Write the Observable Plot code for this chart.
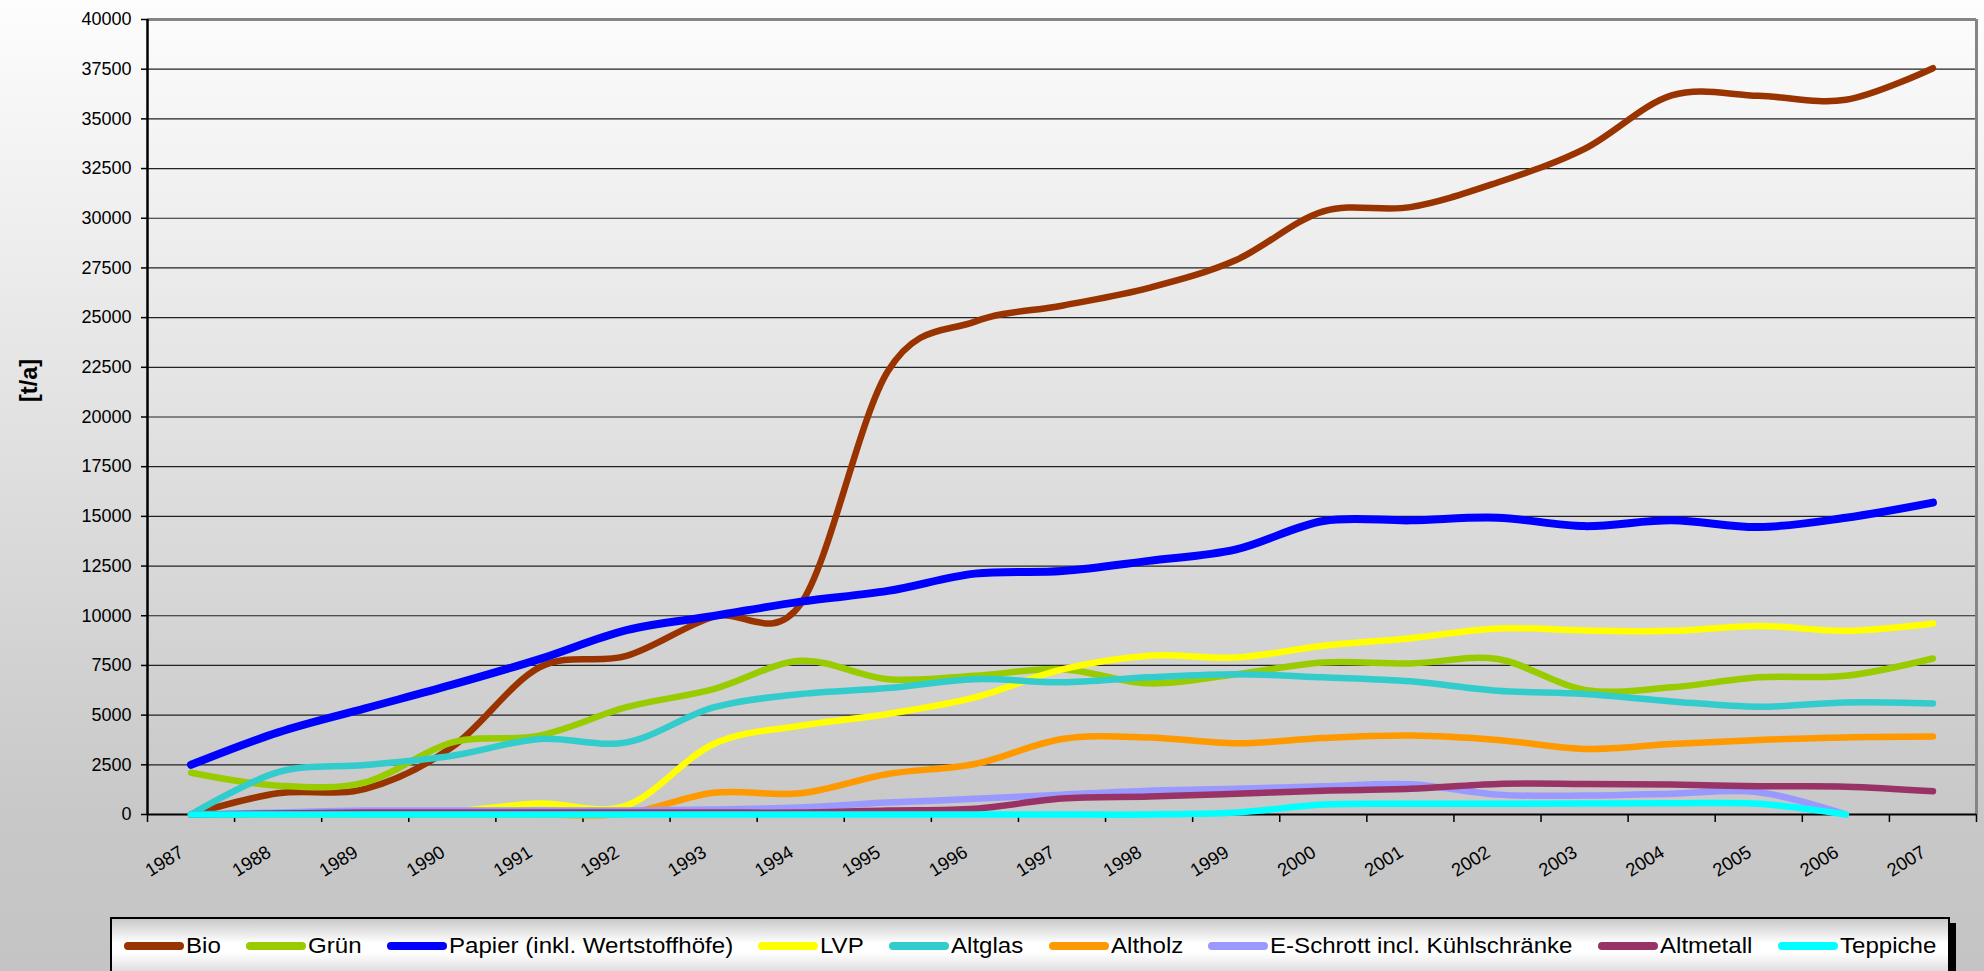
<!DOCTYPE html>
<html>
<head>
<meta charset="utf-8">
<script src="https://cdn.jsdelivr.net/npm/d3@7"></script>
<script src="https://cdn.jsdelivr.net/npm/@observablehq/plot@0.6"></script>
<style>
html,body{margin:0;padding:0;}
body{width:1984px;height:971px;overflow:hidden;position:relative;
  background:linear-gradient(to bottom,#fdfdfd 0px,#c8c8c8 814px,#c4c4c4 971px);
  font-family:"Liberation Sans",Arial,sans-serif;}
#chart{position:absolute;left:0;top:0;}
#legend{position:absolute;left:110px;top:917px;width:1812px;height:70px;
  border:2px solid #000;box-sizing:content-box;padding:0 12px 0 12px;
  background:linear-gradient(to bottom,#c9c9c9 0px,#ffffff 24px,#ffffff 34px,#cfcfcf 60px);
  box-shadow:6px 6px 0 #000;display:flex;justify-content:space-between;align-items:flex-start;}
#legend .item{display:flex;align-items:center;margin-top:15px;height:24px;white-space:nowrap;}
#legend .sw{display:inline-block;width:60px;height:8px;border-radius:4px;margin-right:2px;}
#legend .tx{display:inline-block;font-size:21.5px;line-height:24px;color:#000;transform:scaleX(1.12);transform-origin:left center;}
</style>
</head>
<body>
<div id="chart"></div>
<div id="legend"></div>
<script>
// ---- data (t/a per year) ----
const years = [1987,1988,1989,1990,1991,1992,1993,1994,1995,1996,1997,1998,1999,2000,2001,2002,2003,2004,2005,2006,2007];
const bio       = [0,1070,1290,3400,7400,7980,9950,10600,22300,24800,25600,26500,27900,30350,30560,31800,33490,36180,36160,35960,37550];
const gruen     = [2100,1450,1620,3630,3970,5400,6310,7730,6810,6980,7310,6600,7060,7650,7600,7820,6270,6400,6900,6980,7850];
const papier    = [2500,4130,5340,6530,7820,9280,9990,10710,11250,12120,12250,12760,13340,14770,14800,14930,14510,14800,14460,14930,15690];
const lvp       = [0,0,30,150,550,450,3550,4470,5060,5890,7300,7990,7900,8490,8870,9360,9260,9240,9490,9240,9610];
const altglas   = [0,2130,2490,2960,3800,3630,5390,6060,6360,6810,6650,6900,7060,6900,6700,6230,6060,5690,5420,5640,5590];
const altholz   = [0,0,0,0,0,50,1090,1070,2040,2540,3800,3880,3580,3850,3970,3750,3300,3550,3750,3880,3920];
const eschrott  = [0,100,200,200,200,200,250,350,600,790,1000,1200,1290,1420,1520,1000,950,1050,1120,0,null];
const altmetall = [0,50,100,100,100,100,100,100,200,290,800,900,1040,1200,1290,1540,1540,1510,1420,1400,1170];
const teppiche  = [0,0,0,0,0,0,0,0,0,0,0,0,100,500,540,540,550,560,540,0,null];

const seriesNames  = ["Bio","Grün","Papier (inkl. Wertstoffhöfe)","LVP","Altglas","Altholz","E-Schrott incl. Kühlschränke","Altmetall","Teppiche"];
const seriesColors = ["#993300","#99CC00","#0000FF","#FFFF00","#33CCCC","#FF9900","#9999FF","#993366","#00FFFF"];
const seriesValues = [bio,gruen,papier,lvp,altglas,altholz,eschrott,altmetall,teppiche];
const yTicks = d3.range(0, 40001, 2500);
const yTitle = "[t/a]";

// ---- table built from the arrays ----
const rows = seriesNames.flatMap((name, s) =>
  years.map((year, i) => ({series: name, year, value: seriesValues[s][i]})).filter(d => d.value != null));

const boundaries = d3.range(years[0] - 0.5, years[years.length - 1] + 1, 1);

const lineMarks = seriesNames.map((name, s) =>
  Plot.line(rows.filter(d => d.series === name), {
    x: "year", y: "value", stroke: seriesColors[s],
    strokeWidth: name.startsWith("Papier") ? 8 : 6.5,
    curve: "cardinal", strokeLinecap: "round", strokeLinejoin: "round"
  }));

const chart = Plot.plot({
  width: 1984, height: 900,
  marginLeft: 147, marginRight: 8, marginTop: 19, marginBottom: 86,
  style: {background: "transparent", fontFamily: "'Liberation Sans', Arial, sans-serif", color: "#000", overflow: "visible"},
  x: {type: "linear", domain: [years[0] - 0.5, years[years.length - 1] + 0.5], axis: null},
  y: {domain: [0, 40000], axis: null},
  marks: [
    Plot.gridY(yTicks.filter(v => v > 0 && v < 40000), {stroke: "#222", strokeOpacity: 1, strokeWidth: 1.2}),
    Plot.axisY(yTicks, {anchor: "left", tickSize: 6, tickPadding: 10, tickFormat: d => String(d), fontSize: 18, label: null, stroke: "#000", strokeWidth: 1.5, ariaLabel: "ylab"}),
    Plot.axisX(boundaries, {anchor: "bottom", tickSize: 8, tickFormat: () => "", label: null, stroke: "#000", strokeWidth: 1.5}),
    Plot.text(years, {x: d => d, frameAnchor: "bottom", text: d => String(d), rotate: -32, textAnchor: "end", lineAnchor: "bottom", dx: -6, dy: 41, fontSize: 18.5, fill: "#000", ariaLabel: "xlab"}),
    Plot.text([yTitle], {frameAnchor: "left", dx: -118, dy: -15, rotate: -90, fontWeight: "bold", fontSize: 23.5, fill: "#000", ariaLabel: "ytitle"}),
    Plot.ruleY([40000], {stroke: "#858585", strokeWidth: 3}),
    Plot.ruleX([years[years.length - 1] + 0.5], {stroke: "#858585", strokeWidth: 3}),
    Plot.ruleY([0], {stroke: "#000", strokeWidth: 2}),
    Plot.ruleX([years[0] - 0.5], {stroke: "#000", strokeWidth: 2.5}),
    ...lineMarks
  ]
});
document.getElementById("chart").append(chart);

// horizontal stretch of the texts, as in the original rendering
function stretch(t, s) {
  let tr = t.getAttribute("transform") || "";
  const xa = t.getAttribute("x"), ya = t.getAttribute("y");
  const num = v => v != null && v !== "" && !/[a-z%]/i.test(v);
  let px = 0, py = 0;
  if (num(xa)) { px = +xa; t.removeAttribute("x"); }
  if (num(ya)) { py = +ya; t.removeAttribute("y"); }
  if (px || py) tr += ` translate(${px},${py})`;
  if (tr.includes("rotate(")) tr = tr.replace("rotate(", `scale(${s},1) rotate(`);
  else tr += ` scale(${s},1)`;
  t.setAttribute("transform", tr.trim());
}
chart.querySelectorAll('g[aria-label="ylab"] text, g[aria-label="xlab"] text, g[aria-label="ytitle"] text').forEach(t => stretch(t, 1.2));

// ---- legend ----
const legend = document.getElementById("legend");
seriesNames.forEach((name, s) => {
  const item = document.createElement("div"); item.className = "item";
  const sw = document.createElement("span"); sw.className = "sw"; sw.style.background = seriesColors[s];
  const tx = document.createElement("span"); tx.className = "tx"; tx.textContent = name;
  item.append(sw, tx); legend.append(item);
});
legend.querySelectorAll(".tx").forEach(t => { t.style.marginRight = (t.offsetWidth * 0.12) + "px"; });
</script>
</body>
</html>
